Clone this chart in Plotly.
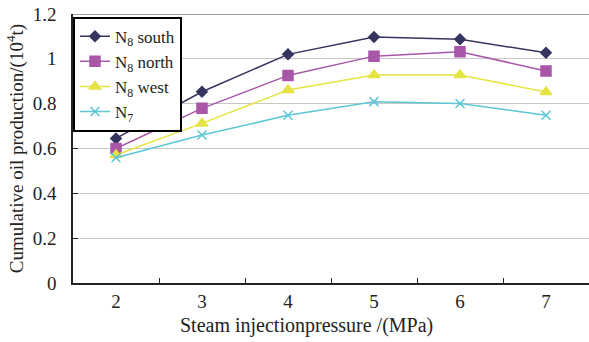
import plotly.graph_objects as go

pressures = ["2", "3", "4", "5", "6", "7"]
n8_south = [0.645, 0.853, 1.020, 1.097, 1.087, 1.027]
n8_north = [0.600, 0.779, 0.926, 1.012, 1.032, 0.946]
n8_west = [0.571, 0.712, 0.861, 0.928, 0.928, 0.852]
n7 = [0.559, 0.660, 0.748, 0.809, 0.801, 0.748]

series = [
    ("N<sub>8</sub> south", n8_south, "#34345f", "diamond", 8),
    ("N<sub>8</sub> north", n8_north, "#a857a8", "square", 10),
    ("N<sub>8</sub> west", n8_west, "#e6e444", "triangle-up", 10),
    ("N<sub>7</sub>", n7, "#5cc6d4", "x-thin", 9),
]

fig = go.Figure()
for name, vals, color, sym, size in series:
    fig.add_trace(go.Scatter(
        x=pressures, y=vals, name=name, mode="lines+markers",
        line=dict(color=color, width=1.5),
        marker=dict(symbol=sym, size=size, color=color,
                    line=dict(color=color, width=1.5)),
    ))

font = "Liberation Serif"
fig.update_layout(
    width=589, height=342,
    margin=dict(l=73, r=0, t=14, b=59),
    paper_bgcolor="white", plot_bgcolor="white",
    font=dict(family=font, size=18, color="#222"),
    showlegend=True,
    legend=dict(
        x=0.0, y=0.99, xanchor="left", yanchor="top",
        bgcolor="white", bordercolor="black", borderwidth=2,
        font=dict(family=font, size=17, color="#222"),
        tracegroupgap=0,
    ),
    xaxis=dict(
        type="category", range=[-0.5, 5.5],
        tickson="boundaries", ticks="inside", ticklen=5, tickcolor="#222",
        showline=True, linecolor="#222", linewidth=1.5,
        showgrid=False, zeroline=False,
        tickfont=dict(family=font, size=19),
    ),
    yaxis=dict(
        range=[0, 1.2], dtick=0.2, tick0=0,
        ticks="inside", ticklen=5, tickcolor="#222",
        showline=True, linecolor="#222", linewidth=1.5,
        showgrid=True, gridcolor="#c8c8c8", gridwidth=1,
        zeroline=False,
        title=dict(text="Cumulative oil production/(10<sup>4</sup>t)", standoff=4,
                   font=dict(family=font, size=19)),
        tickfont=dict(family=font, size=19),
        ticklabelstandoff=11,
    ),
)
fig.add_annotation(
    text="Steam injectionpressure /(MPa)", xref="paper", yref="paper",
    x=0.4516, y=0, yshift=-42, xanchor="center", yanchor="middle",
    showarrow=False, font=dict(family=font, size=20, color="#222"),
)
fig.add_shape(type="line", xref="paper", yref="y", x0=0, x1=1, y0=1.2, y1=1.2,
              line=dict(color="#a0a0a0", width=2), layer="below")

fig.write_html("out.html")
